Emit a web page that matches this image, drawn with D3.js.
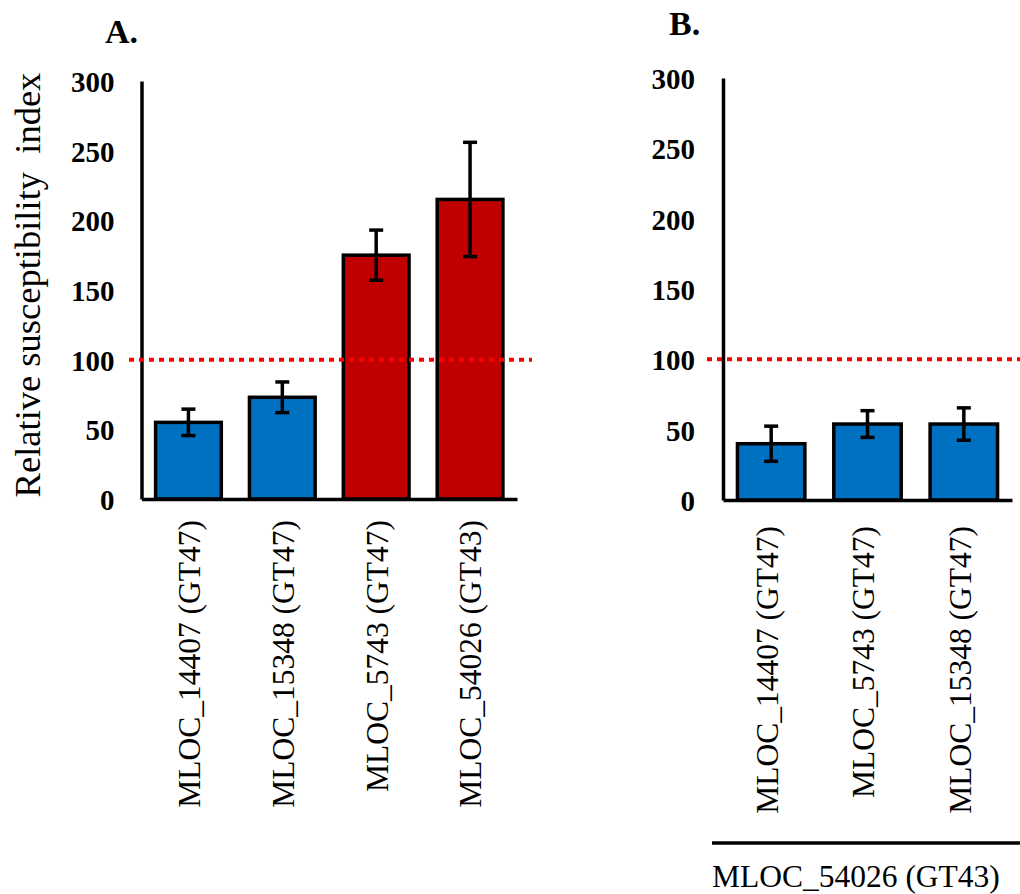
<!DOCTYPE html>
<html>
<head>
  <meta charset="utf-8">
  <script src="https://d3js.org/d3.v7.min.js"></script>
  <style>
    body { margin: 0; background: #fff; }
    text { font-family: "Liberation Serif", "Times New Roman", serif; fill: #000; }
  </style>
</head>
<body>
<script>
  // panel A data
  var catsA = ["MLOC_14407 (GT47)", "MLOC_15348 (GT47)", "MLOC_5743 (GT47)", "MLOC_54026 (GT43)"];
  var valsA = [55, 73, 175, 215];
  var errA = [9.5, 11, 18, 41];

  // panel B data (knock-down background)
  var catsB = ["MLOC_14407 (GT47)", "MLOC_5743 (GT47)", "MLOC_15348 (GT47)"];
  var valsB = [40, 54, 54];
  var errB = [12.5, 9.5, 11.5];
  var groupB = "MLOC_54026 (GT43)";

  var yTicks = [0, 50, 100, 150, 200, 250, 300];
  var threshold = 100;

  var svg = d3.select("body").append("svg")
      .attr("width", 1020)
      .attr("height", 894);

  function panel(opt) {
    "use strict";
    var g = svg.append("g");
    var x = d3.scaleBand().domain(opt.cats)
        .range([opt.left, opt.right])
        .paddingInner(0.3).paddingOuter(0.15);
    var y = d3.scaleLinear().domain([0, 300]).range([opt.bottom, opt.top]);

    // y axis
    var ya = g.append("g")
        .attr("transform", "translate(" + opt.left + ",0)")
        .call(d3.axisLeft(y).tickValues(yTicks).tickSize(0).tickSizeOuter(0).tickPadding(opt.tickPad));
    ya.select(".domain").attr("stroke", "#000").attr("stroke-width", 3.5);
    ya.selectAll("text")
        .style("font-family", "'Liberation Serif', serif")
        .style("font-size", "29px").style("font-weight", "bold")
        .attr("dy", "0.36em");

    // bars
    g.selectAll("rect.bar").data(opt.vals).enter().append("rect")
        .attr("class", "bar")
        .attr("x", function (d, i) { return x(opt.cats[i]); })
        .attr("width", x.bandwidth())
        .attr("y", function (d) { return y(d); })
        .attr("height", function (d) { return y(0) - y(d); })
        .attr("fill", function (d) { return d > threshold ? "#C00000" : "#0070C0"; })
        .attr("stroke", "#000").attr("stroke-width", 3.5);

    // error bars
    var eb = g.selectAll("g.err").data(opt.vals).enter().append("g")
        .attr("transform", function (d, i) { return "translate(" + (x(opt.cats[i]) + x.bandwidth() / 2) + ",0)"; });
    eb.append("line")
        .attr("y1", function (d, i) { return y(d + opt.errs[i]); })
        .attr("y2", function (d, i) { return y(d - opt.errs[i]); })
        .attr("stroke", "#000").attr("stroke-width", 3.5);
    [1, -1].forEach(function (s) {
      eb.append("line")
          .attr("x1", -7).attr("x2", 7)
          .attr("y1", function (d, i) { return y(d + s * opt.errs[i]); })
          .attr("y2", function (d, i) { return y(d + s * opt.errs[i]); })
          .attr("stroke", "#000").attr("stroke-width", 3.5);
    });

    // x axis
    var xa = g.append("g")
        .attr("transform", "translate(0," + opt.bottom + ")")
        .call(d3.axisBottom(x).tickSize(0).tickSizeOuter(0).tickPadding(0));
    xa.select(".domain").attr("stroke", "#000").attr("stroke-width", 3.5);
    xa.selectAll("text")
        .style("font-family", "'Liberation Serif', serif")
        .style("font-size", "31.5px")
        .attr("text-anchor", "end")
        .attr("transform", "rotate(-90)")
        .attr("x", -opt.labGap)
        .attr("y", 0)
        .attr("dy", opt.labDy);

    // reference line at 100
    g.append("line")
        .attr("x1", opt.refX1).attr("x2", opt.refX2)
        .attr("y1", y(threshold)).attr("y2", y(threshold))
        .attr("stroke", "#FF0000").attr("stroke-width", 4)
        .attr("stroke-dasharray", "5,5");

    // panel letter
    g.append("text")
        .attr("x", opt.letterX).attr("y", opt.letterY)
        .style("font-size", "34px").style("font-weight", "bold")
        .text(opt.letter);
    return { g: g, x: x, y: y };
  }

  panel({
    cats: catsA, vals: valsA, errs: errA,
    left: 141.5, right: 517, top: 81, bottom: 499,
    tickPad: 27, labGap: 21, labDy: "0.36em",
    refX1: 129, refX2: 532, letter: "A.", letterX: 105, letterY: 43
  });

  panel({
    cats: catsB, vals: valsB, errs: errB,
    left: 723, right: 1012, top: 78, bottom: 500,
    tickPad: 28, labGap: 26, labDy: "0.22em",
    refX1: 707, refX2: 1020, letter: "B.", letterX: 669, letterY: 35
  });

  // y axis title
  svg.append("text")
      .attr("transform", "translate(40,285) rotate(-90)")
      .attr("text-anchor", "middle")
      .style("font-size", "36.5px")
      .style("white-space", "pre")
      .text("Relative susceptibility  index");

  // group bracket for panel B
  svg.append("line")
      .attr("x1", 712).attr("x2", 1020)
      .attr("y1", 843).attr("y2", 843)
      .attr("stroke", "#000").attr("stroke-width", 3.5);
  svg.append("text")
      .attr("x", 712).attr("y", 887)
      .style("font-size", "31.5px")
      .text(groupB);
</script>
</body>
</html>
